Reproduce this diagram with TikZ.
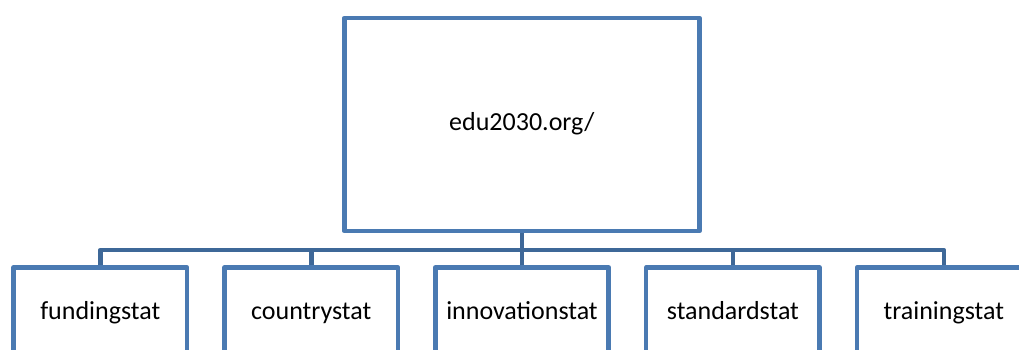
\documentclass[tikz,border=0pt]{standalone}
\usepackage{fontspec}
\setmainfont{Carlito}
\definecolor{boxblue}{RGB}{74,122,178}
\definecolor{linkblue}{RGB}{62,104,152}
\tikzset{
  orgbox/.style={draw=boxblue, line width=4.6pt, line join=round, fill=white, rectangle, inner sep=0pt,
    font=\fontsize{26}{30}\selectfont, text=black},
  topbox/.style={orgbox, minimum width=355pt, minimum height=213pt, text height=18pt, text depth=5.6pt},
  leafbox/.style={orgbox, minimum width=173.5pt, minimum height=90pt, text height=19pt, text depth=5.4pt},
  link/.style={draw=linkblue, line width=4.6pt, line join=round}
}
\begin{document}
\begin{tikzpicture}[x=1pt,y=-1pt]
\useasboundingbox (0,0) rectangle (1019,349);
\clip (0,0) rectangle (1019,349);
\node[topbox] (top) at (521.8,124.5) {edu2030.org/};
\node[leafbox] (b1) at (100.3,312.5) {fundingstat};
\node[leafbox] (b2) at (311.2,312.5) {countrystat};
\node[leafbox] (b3) at (522.0,312.5) {innovationstat};
\node[leafbox] (b4) at (732.9,312.5) {standardstat};
\node[leafbox] (b5) at (943.8,312.5) {trainingstat};
\coordinate (bus) at (521.8,250);
\draw[link] (top.south) -- (bus);
\draw[link] (b1.north) |- (bus);
\draw[link] (b5.north) |- (bus);
\draw[link] (b2.north) -- (b2.north |- bus);
\draw[link] (b3.north) -- (b3.north |- bus);
\draw[link] (b4.north) -- (b4.north |- bus);
\end{tikzpicture}
\end{document}
